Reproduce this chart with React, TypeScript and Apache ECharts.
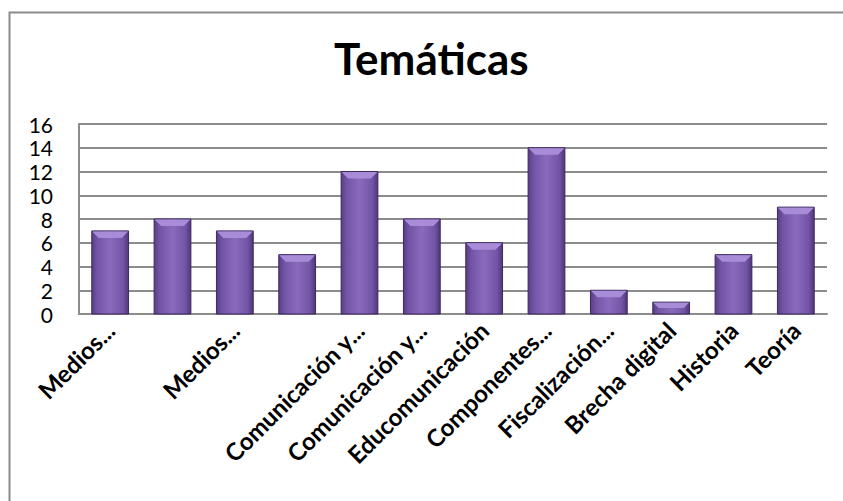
import React, { useEffect, useRef } from "react";
import * as echarts from "echarts";

const categories: string[] = [
  "Medios...",
  "",
  "Medios...",
  "",
  "Comunicación y...",
  "Comunicación y...",
  "Educomunicación",
  "Componentes...",
  "Fiscalización...",
  "Brecha digital",
  "Historia",
  "Teoría",
];
const values: number[] = [7, 8, 7, 5, 12, 8, 6, 14, 2, 1, 5, 9];
const title = "Temáticas";

export default function App() {
  const ref = useRef<HTMLDivElement>(null);
  useEffect(() => {
    if (!ref.current) return;
    const chart = echarts.init(ref.current, undefined, { renderer: "svg" });
    const font = "Lato, 'Open Sans', sans-serif";
    const bodyGrad = new echarts.graphic.LinearGradient(0, 0, 1, 0, [
      { offset: 0, color: "#583d85" },
      { offset: 0.15, color: "#7254a5" },
      { offset: 0.5, color: "#8a6abd" },
      { offset: 0.85, color: "#7254a5" },
      { offset: 1, color: "#4f3678" },
    ]);
    chart.setOption({
      animation: false,
      backgroundColor: "#ffffff",
      title: {
        text: title,
        left: 334,
        top: 36,
        textStyle: { fontFamily: font, fontWeight: "bold", fontSize: 44, color: "#000" },
        padding: 0,
        itemGap: 0,
      },
      graphic: [
        {
          type: "rect",
          shape: { x: 9.5, y: 12.5, width: 900, height: 600 },
          style: { fill: "none", stroke: "#8a8a8a", lineWidth: 2 },
          silent: true,
        },
      ],
      grid: { left: 79, right: 16, top: 124, bottom: 187, containLabel: false },
      xAxis: {
        type: "category",
        data: categories,
        axisLine: { show: true, lineStyle: { color: "#8c8c8c", width: 2 } },
        axisTick: { show: false },
        axisLabel: {
          interval: 0,
          rotate: 45,
          margin: 12,
          fontFamily: font,
          fontWeight: "bold",
          fontSize: 24,
          color: "#000",
        },
      },
      yAxis: {
        type: "value",
        min: 0,
        max: 16,
        interval: 2,
        axisLine: { show: true, lineStyle: { color: "#8c8c8c", width: 2 } },
        axisTick: { show: false },
        splitLine: { lineStyle: { color: "#8c8c8c", width: 2 } },
        axisLabel: { fontFamily: font, fontSize: 21, color: "#000", margin: 26 },
      },
      series: [
        {
          type: "custom",
          data: values.map((v, i) => [i, v]),
          renderItem: (params: any, api: any) => {
            const idx = api.value(0);
            const val = api.value(1);
            const top = api.coord([idx, val]);
            const base = api.coord([idx, 0]);
            const band = api.size([1, 0])[0];
            const w = band * 0.59;
            const x0 = top[0] - w / 2;
            const x1 = top[0] + w / 2;
            const y0 = top[1];
            const y1 = base[1];
            const h = y1 - y0;
            const b = Math.min(7, h / 2);
            return {
              type: "group",
              children: [
                {
                  type: "rect",
                  shape: { x: x0, y: y0, width: w, height: h },
                  style: { fill: bodyGrad, stroke: "#3d2860", lineWidth: 1 },
                },
                {
                  type: "polygon",
                  shape: {
                    points: [
                      [x0 + 0.5, y0 + 0.5],
                      [x1 - 0.5, y0 + 0.5],
                      [x1 - b, y0 + b],
                      [x0 + b, y0 + b],
                    ],
                  },
                  style: { fill: "#a98cd8" },
                },
              ],
            };
          },
        },
      ],
    });
    return () => chart.dispose();
  }, []);
  return (
    <div
      ref={ref}
      style={{ position: "fixed", left: 0, top: 0, width: 843, height: 501 }}
    />
  );
}
